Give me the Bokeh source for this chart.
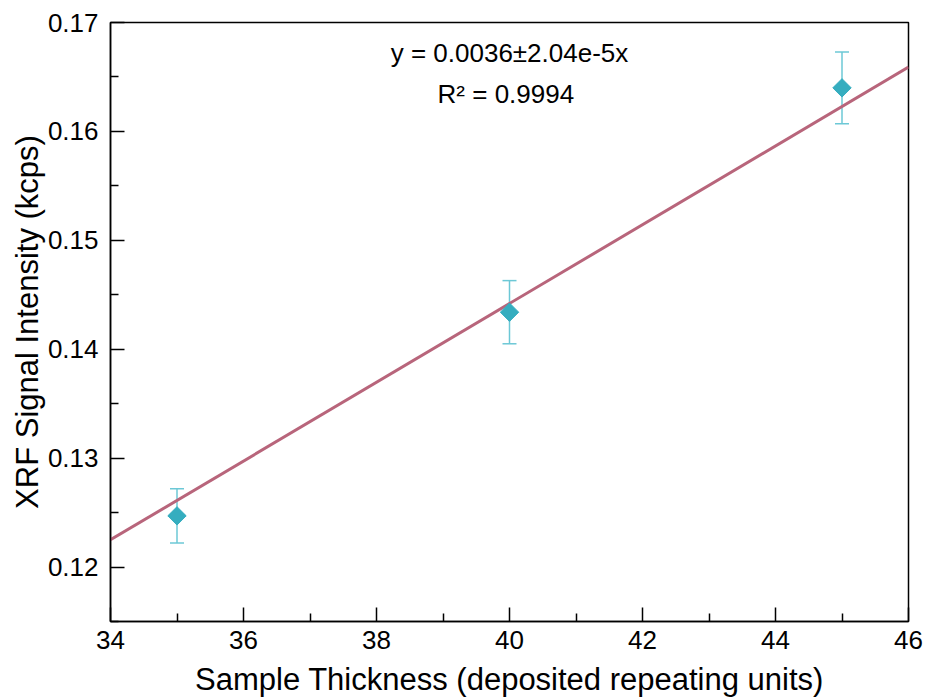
import math
from bokeh.plotting import figure
from bokeh.models import ColumnDataSource, Whisker, TeeHead, FixedTicker, Label, Range1d
from bokeh.embed import file_html
from bokeh.resources import INLINE

# ---- data ----
thickness = [35, 40, 45]
intensity = [0.1247, 0.1434, 0.1640]
err = [0.0025, 0.0029, 0.0033]
fit_x = [34, 46]
fit_y = [0.1225, 0.1659]
eq_text = "y = 0.0036\u00b12.04e-5x"
r2_text = "R\u00b2  = 0.9994"
x_ticks = [34, 36, 38, 40, 42, 44, 46]
y_ticks = [0.12, 0.13, 0.14, 0.15, 0.16, 0.17]

FONT = "Liberation Sans"

p = figure(width=926, height=700, output_backend="svg", toolbar_location=None,
           x_range=Range1d(34, 46), y_range=Range1d(0.115, 0.17),
           min_border_left=110, min_border_right=18, min_border_top=22, min_border_bottom=79)
p.background_fill_color = "white"
p.border_fill_color = "white"
p.xgrid.visible = False
p.ygrid.visible = False
p.outline_line_color = "black"
p.outline_line_width = 1.5
p.outline_line_alpha = 1.0

p.xaxis.ticker = FixedTicker(ticks=x_ticks, minor_ticks=[35, 37, 39, 41, 43, 45])
p.yaxis.ticker = FixedTicker(ticks=y_ticks, minor_ticks=[0.115, 0.125, 0.135, 0.145, 0.155, 0.165])

for ax in (p.xaxis[0], p.yaxis[0]):
    ax.major_tick_in = 14
    ax.major_tick_out = 0
    ax.minor_tick_in = 8
    ax.minor_tick_out = 0
    ax.axis_line_width = 1.5
    ax.major_tick_line_width = 1.5
    ax.minor_tick_line_width = 1.5
    ax.axis_line_color = "black"
    ax.major_tick_line_color = "black"
    ax.minor_tick_line_color = "black"
    ax.major_label_text_font = FONT
    ax.major_label_text_font_size = "26px"
    ax.major_label_text_color = "black"
    ax.axis_label_text_font = FONT
    ax.axis_label_text_font_size = "31px"
    ax.axis_label_text_font_style = "normal"
    ax.axis_label_text_color = "black"

p.xaxis.axis_label = "Sample Thickness (deposited repeating units)"
p.yaxis.axis_label = "XRF Signal Intensity (kcps)"
p.xaxis.major_label_standoff = 9
p.yaxis.major_label_standoff = 12
p.xaxis.axis_label_standoff = 10
p.yaxis.axis_label_standoff = 0

# fit line
p.line(fit_x, fit_y, line_color="#B8657B", line_width=3)

# error bars
src = ColumnDataSource(dict(
    x=thickness, y=intensity,
    upper=[v + e for v, e in zip(intensity, err)],
    lower=[v - e for v, e in zip(intensity, err)],
))
w = Whisker(source=src, base="x", upper="upper", lower="lower",
            line_color="#6CC8D6", line_width=1.5,
            upper_head=TeeHead(size=14, line_color="#6CC8D6", line_width=1.5),
            lower_head=TeeHead(size=14, line_color="#6CC8D6", line_width=1.5))
p.add_layout(w)

p.scatter("x", "y", source=src, marker="square", size=13, angle=math.pi / 4,
          fill_color="#35ADBF", line_color="#35ADBF")

p.add_layout(Label(x=40, y=0.1672, text=eq_text, text_font=FONT, text_font_size="26px",
                   text_align="center", text_baseline="middle", text_color="black"))
p.add_layout(Label(x=40, y=0.1634, text=r2_text, text_font=FONT, text_font_size="26px",
                   text_align="center", text_baseline="middle", text_color="black"))

open("out.html", "w").write(file_html(p, INLINE))
